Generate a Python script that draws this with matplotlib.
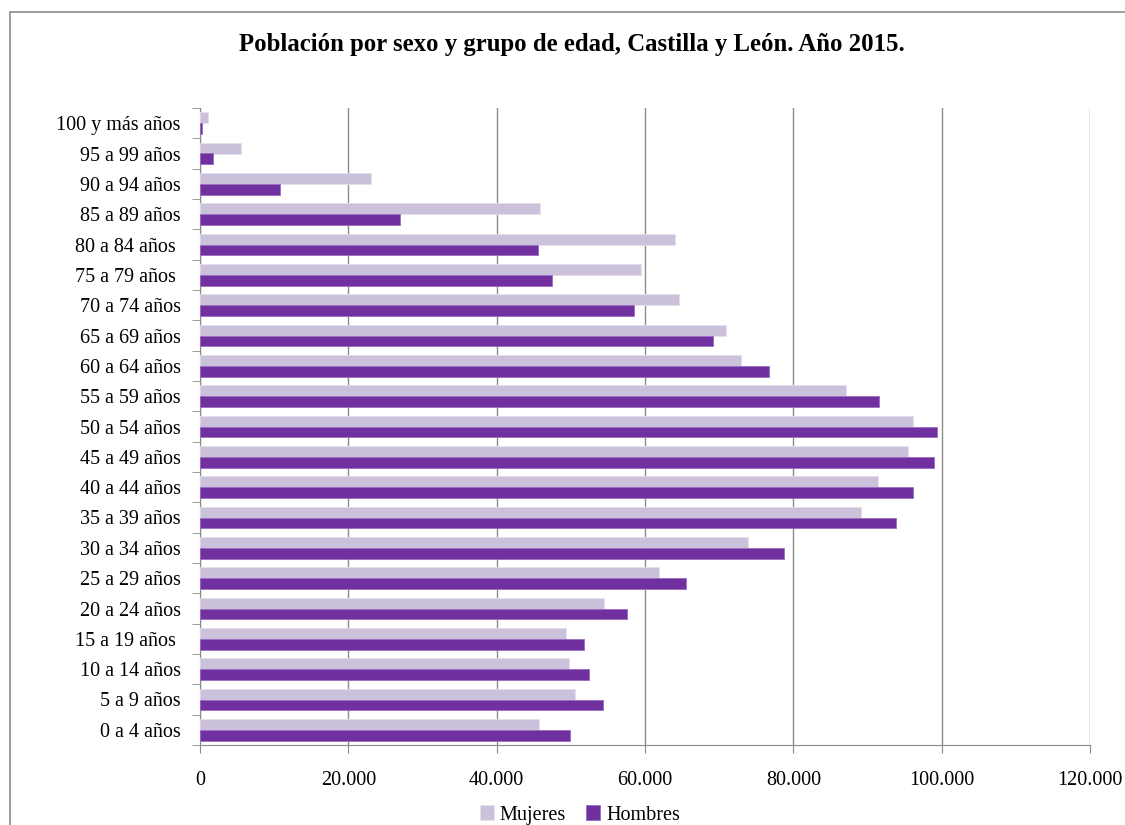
import matplotlib
matplotlib.use("Agg")
from matplotlib import pyplot as plt
from matplotlib.patches import Rectangle
from matplotlib.ticker import FuncFormatter, FixedLocator
import numpy as np

plt.rcParams['font.family'] = ['Liberation Serif', 'DejaVu Serif']

# Grupos de edad (de abajo hacia arriba)
grupos = ["0 a 4 años", "5 a 9 años", "10 a 14 años", "15 a 19 años ",
          "20 a 24 años", "25 a 29 años", "30 a 34 años", "35 a 39 años",
          "40 a 44 años", "45 a 49 años", "50 a 54 años", "55 a 59 años",
          "60 a 64 años", "65 a 69 años", "70 a 74 años", "75 a 79 años ",
          "80 a 84 años ", "85 a 89 años", "90 a 94 años", "95 a 99 años",
          "100 y más años"]

mujeres = [45700, 50500, 49700, 49300, 54500, 61900, 73900, 89100,
           91400, 95400, 96100, 87100, 72900, 70900, 64600, 59400,
           64000, 45800, 23000, 5500, 1100]
hombres = [49900, 54300, 52400, 51800, 57600, 65500, 78700, 93800,
           96100, 98900, 99400, 91500, 76700, 69200, 58500, 47400,
           45600, 27000, 10800, 1800, 250]

x_ticks = [0, 20000, 40000, 60000, 80000, 100000, 120000]

color_m = '#CCC1DA'
color_h = '#7030A0'

fig = plt.figure(figsize=(11.25, 8.25), dpi=100)
ax = fig.add_axes([200 / 1125, 1 - 745 / 825, 890 / 1125, (745 - 108) / 825])

# marco exterior del grafico
fig.patches.append(Rectangle((10 / 1125, -0.1), 1.2, 1 - 12 / 825 + 0.1,
                             transform=fig.transFigure, fill=False,
                             edgecolor='#8c8c8c', linewidth=1.2))

y = np.arange(len(grupos))
h = 0.355
ax.barh(y + h / 2, mujeres, height=h, color=color_m, edgecolor='#e6e0ee',
        linewidth=0.6, label='Mujeres', zorder=3)
ax.barh(y - h / 2, hombres, height=h, color=color_h, edgecolor='#9a6cc0',
        linewidth=0.6, label='Hombres', zorder=3)

ax.set_xlim(0, 120000)
ax.set_ylim(-0.5, len(grupos) - 0.5)

ax.set_yticks(y)
ax.set_yticklabels(grupos, fontsize=14.5)
ax.yaxis.set_minor_locator(FixedLocator(np.arange(-0.5, len(grupos), 1)))
ax.tick_params(axis='y', which='major', length=0, pad=14)
ax.tick_params(axis='y', which='minor', length=6, color='#8c8c8c')

ax.set_xticks(x_ticks)
ax.xaxis.set_major_formatter(FuncFormatter(lambda v, p: f"{int(v):,}".replace(',', '.')))
ax.tick_params(axis='x', length=6, color='#8c8c8c', labelsize=14.5, pad=13)

ax.grid(axis='x', color='#8c8c8c', linewidth=1, zorder=0)
for s in ['top', 'right']:
    ax.spines[s].set_visible(False)
ax.spines['left'].set_color('#8c8c8c')
ax.spines['bottom'].set_color('#8c8c8c')

fig.text(0.508, 1 - 45 / 825, 'Población por sexo y grupo de edad, Castilla y León. Año 2015.',
         ha='center', va='center', fontsize=17.8, fontweight='bold')

fig.legend(loc='center', bbox_to_anchor=(580 / 1125, 1 - 815 / 825), ncol=2,
           frameon=False, fontsize=14.5, handlelength=0.7, handleheight=0.7,
           handletextpad=0.3, columnspacing=1.0)

fig.savefig('out.png', dpi=100)
